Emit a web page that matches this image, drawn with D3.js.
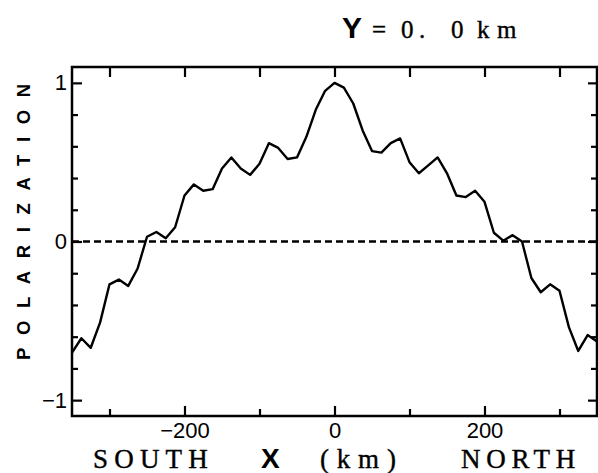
<!DOCTYPE html>
<html>
<head>
<meta charset="utf-8">
<script src="https://cdn.jsdelivr.net/npm/d3@7"></script>
<style>
  body { margin: 0; background: #fff; }
  svg { display: block; }
  .tick text { font-family: "Liberation Sans", Arial, sans-serif; font-size: 22px; fill: #000; }
</style>
</head>
<body>
<svg id="chart" width="598" height="473"></svg>
<script>
// x positions (km) of the profile samples
const x_km = [
  -350, -337.5, -325, -312.5, -300, -287.5, -275, -262.5, -250, -237.5,
  -225, -212.5, -200, -187.5, -175, -162.5, -150, -137.5, -125, -112.5,
  -100, -87.5, -75, -62.5, -50, -37.5, -25, -12.5, 0, 12.5,
  25, 37.5, 50, 62.5, 75, 87.5, 100, 112.5, 125, 137.5,
  150, 162.5, 175, 187.5, 200, 212.5, 225, 237.5, 250, 262.5,
  275, 287.5, 300, 312.5, 325, 337.5, 350
]
// polarization
const polarization = [
  -0.70, -0.61, -0.67, -0.51, -0.27, -0.24, -0.28, -0.17, 0.03, 0.06,
  0.02, 0.09, 0.29, 0.36, 0.32, 0.33, 0.46, 0.53, 0.46, 0.42,
  0.49, 0.62, 0.59, 0.52, 0.53, 0.66, 0.83, 0.95, 1.00, 0.97,
  0.87, 0.70, 0.57, 0.56, 0.62, 0.65, 0.50, 0.43, 0.48, 0.53,
  0.43, 0.29, 0.28, 0.32, 0.25, 0.055, 0.005, 0.04, 0.0, -0.23,
  -0.32, -0.27, -0.31, -0.54, -0.69, -0.59, -0.63
]
const x_major = [-200, 0, 200]
const x_minor = [-300, -100, 100, 300]
const y_major = [-1, 0, 1]
const y_minor = [-0.8, -0.6, -0.4, -0.2, 0.2, 0.4, 0.6, 0.8]

const svg = d3.select('#chart')
const plot_l = 72, plot_r = 597, plot_t = 67, plot_b = 416

const x = d3.scaleLinear().domain([-350, 350]).range([plot_l, plot_r])
const y = d3.scaleLinear().domain([-1.1, 1.1]).range([plot_b, plot_t])

function clean(g) {
  g.select('.domain').remove()
  g.selectAll('.tick line').attr('stroke', '#000').attr('stroke-width', 2.2)
}

// bottom axis, labelled majors + minors
svg.append('g')
  .attr('transform', `translate(0,${plot_b})`)
  .call(d3.axisBottom(x).tickValues(x_major).tickSizeInner(-10).tickSizeOuter(0).tickFormat(d3.format('d')))
  .call(clean)
  .call(g => g.selectAll('.tick text').attr('y', 6).attr('dy', '0.72em'))
svg.append('g')
  .attr('transform', `translate(0,${plot_b})`)
  .call(d3.axisBottom(x).tickValues(x_minor).tickSizeInner(-7).tickSizeOuter(0).tickFormat(''))
  .call(clean)

// top axis
svg.append('g')
  .attr('transform', `translate(0,${plot_t})`)
  .call(d3.axisTop(x).tickValues(x_major.concat(x_minor)).tickSizeInner(-10).tickSizeOuter(0).tickFormat(''))
  .call(clean)

// left axis
svg.append('g')
  .attr('transform', `translate(${plot_l},0)`)
  .call(d3.axisLeft(y).tickValues(y_major).tickSizeInner(-10).tickSizeOuter(0).tickPadding(5)
    .tickFormat(d3.format('d')))
  .call(clean)
svg.append('g')
  .attr('transform', `translate(${plot_l},0)`)
  .call(d3.axisLeft(y).tickValues(y_minor).tickSizeInner(-6).tickSizeOuter(0).tickFormat(''))
  .call(clean)

// right axis
svg.append('g')
  .attr('transform', `translate(${plot_r},0)`)
  .call(d3.axisRight(y).tickValues(y_major).tickSizeInner(-9).tickSizeOuter(0).tickFormat(''))
  .call(clean)
svg.append('g')
  .attr('transform', `translate(${plot_r},0)`)
  .call(d3.axisRight(y).tickValues(y_minor).tickSizeInner(-6).tickSizeOuter(0).tickFormat(''))
  .call(clean)

// frame
svg.append('rect')
  .attr('x', plot_l).attr('y', plot_t)
  .attr('width', plot_r - plot_l).attr('height', plot_b - plot_t)
  .attr('fill', 'none').attr('stroke', '#000').attr('stroke-width', 2.5)

// zero line
svg.append('line')
  .attr('x1', x(-350)).attr('x2', x(350))
  .attr('y1', y(0)).attr('y2', y(0))
  .attr('stroke', '#000').attr('stroke-width', 2.5)
  .attr('stroke-dasharray', '7,4')

// profile
const line = d3.line().x((d, i) => x(x_km[i])).y(d => y(d))
svg.append('path')
  .datum(polarization)
  .attr('d', line)
  .attr('fill', 'none')
  .attr('stroke', '#000')
  .attr('stroke-width', 2.4)
  .attr('stroke-linejoin', 'round')

const serif = '"Liberation Serif", "Times New Roman", serif'
const sans = '"Liberation Sans", Arial, sans-serif'

// y label
let y_ls = 12.6
svg.append('text')
  .attr('transform', `translate(30,${222 - y_ls / 2}) rotate(-90)`)
  .attr('text-anchor', 'middle')
  .style('font-family', sans)
  .style('font-weight', 'bold')
  .style('font-size', '18.5px')
  .style('letter-spacing', y_ls + 'px')
  .text('POLARIZATION')

// title
let title = svg.append('text').attr('y', 38)
title.append('tspan').attr('x', 342)
  .style('font-family', sans).style('font-weight', 'bold').style('font-size', '30px').text('Y')
let title_parts = [['=', 372], ['0', 401], ['.', 419], ['0', 451], ['k', 477], ['m', 497]]
title_parts.forEach(p => {
  title.append('tspan').attr('x', p[1])
    .style('font-family', serif).style('font-size', '25px')
    .style('stroke', '#000').style('stroke-width', 0.4).text(p[0])
})

// bottom labels
let baseline = 468
function serif_label(txt, x0, ls) {
  svg.append('text').attr('x', x0).attr('y', baseline)
    .style('font-family', serif).style('font-size', '27px').style('letter-spacing', ls + 'px')
    .style('stroke', '#000').style('stroke-width', 0.4)
    .text(txt)
}
serif_label('SOUTH', 93, 6.2)
serif_label('(km)', 320, 7.8)
serif_label('NORTH', 461, 5.7)
svg.append('text').attr('x', 261).attr('y', baseline)
  .style('font-family', sans).style('font-weight', 'bold').style('font-size', '28px')
  .text('X')
</script>
</body>
</html>
